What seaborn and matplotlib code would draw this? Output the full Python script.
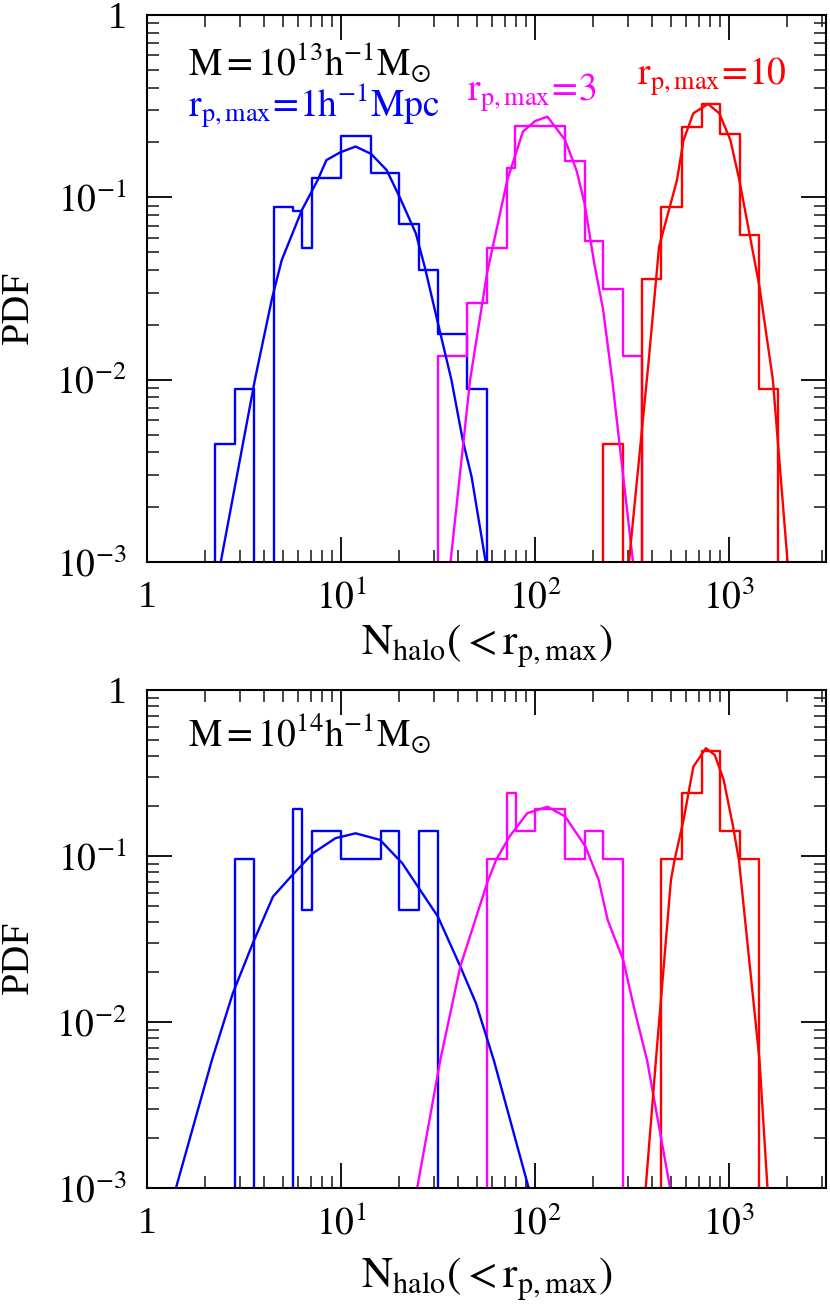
import numpy as np
import pandas as pd
import matplotlib
matplotlib.use("Agg")
import matplotlib.pyplot as plt
import seaborn as sns
from matplotlib.ticker import FixedLocator, FixedFormatter, NullFormatter, LogLocator

# ---------------- data ----------------
# Top panel: M = 1e13 h^-1 Msun
top_blue_edges = [2.24, 2.84, 3.56, 4.50, 5.66, 6.28, 7.10, 10.0, 14.3, 20.0, 25.3, 31.8, 44.6, 56.6]
top_blue_pdf = [0.00444, 0.00885, 0.0, 0.088, 0.084, 0.053, 0.128, 0.217, 0.136, 0.0711, 0.040, 0.0177, 0.00885]
top_mag_edges = [31.8, 44.6, 56.6, 71.9, 78.7, 143.0, 180.0, 225.0, 285.0, 358.0]
top_mag_pdf = [0.0134, 0.0264, 0.053, 0.144, 0.246, 0.159, 0.0576, 0.0313, 0.0134]
top_red_edges = [225.0, 285.0, 358.0, 448.0, 574.0, 728.0, 901.0, 1143.0, 1436.0, 1794.0]
top_red_pdf = [0.00444, 0.0, 0.0355, 0.088, 0.244, 0.325, 0.222, 0.0621, 0.00885]

top_blue_fit_x = [2.40, 3.6, 4.41, 4.95, 6.29, 7.57, 8.41, 9.86, 11.9, 14.3, 17.2, 20.2, 24.3, 27.0, 31.6, 37.1, 42.4, 47.1, 55.7]
top_blue_fit_y = [0.001, 0.010, 0.0279, 0.0453, 0.0852, 0.124, 0.160, 0.176, 0.190, 0.173, 0.141, 0.0987, 0.0635, 0.0417, 0.0204, 0.00996, 0.00467, 0.00294, 0.001]
top_mag_fit_x = [36.7, 46.3, 56.6, 71.9, 86.6, 100.0, 115.9, 143.0, 163.5, 180.0, 202.0, 224.6, 250.0, 320.0]
top_mag_fit_y = [0.001, 0.010, 0.0383, 0.124, 0.229, 0.262, 0.277, 0.206, 0.141, 0.093, 0.0435, 0.0241, 0.010, 0.001]
top_red_fit_x = [305.0, 385.0, 436.0, 539.0, 583.0, 655.0, 780.0, 891.0, 1017.0, 1131.0, 1436.0, 1683.0, 2004.0]
top_red_fit_y = [0.001, 0.0125, 0.0536, 0.124, 0.206, 0.289, 0.325, 0.289, 0.206, 0.124, 0.0323, 0.010, 0.001]

# Bottom panel: M = 1e14 h^-1 Msun
bot_blue_edges = [2.84, 3.56, 5.68, 6.28, 7.10, 10.0, 16.06, 20.0, 25.3, 31.8]
bot_blue_pdf = [0.0955, 0.0, 0.192, 0.0473, 0.142, 0.0955, 0.142, 0.0473, 0.142]
bot_mag_edges = [56.6, 71.9, 80.0, 100.5, 143.0, 180.0, 225.0, 285.0]
bot_mag_pdf = [0.0955, 0.2385, 0.142, 0.192, 0.0955, 0.142, 0.0955]
bot_red_edges = [448.0, 574.0, 728.0, 901.0, 1143.0, 1436.0]
bot_red_pdf = [0.0955, 0.2385, 0.431, 0.142, 0.0955]

bot_blue_fit_x = [1.41, 2.16, 2.77, 3.51, 4.46, 5.51, 7.17, 9.36, 11.9, 15.9, 20.7, 31.6, 41.2, 49.6, 61.3, 92.8]
bot_blue_fit_y = [0.001, 0.0059, 0.0149, 0.0298, 0.0569, 0.075, 0.104, 0.128, 0.137, 0.125, 0.0904, 0.0431, 0.0216, 0.0130, 0.0059, 0.001]
bot_mag_fit_x = [24.7, 32.5, 41.2, 56.6, 63.0, 73.9, 91.2, 116.0, 143.0, 182.0, 213.0, 237.0, 285.0, 326.0, 378.0, 497.0]
bot_mag_fit_y = [0.001, 0.0059, 0.0216, 0.0685, 0.0946, 0.131, 0.181, 0.198, 0.173, 0.114, 0.0717, 0.0411, 0.0236, 0.0118, 0.0059, 0.001]
bot_red_fit_x = [372.0, 420.0, 502.0, 524.0, 583.0, 655.0, 760.0, 845.0, 939.0, 1050.0, 1125.0, 1436.0, 1579.0]
bot_red_fit_y = [0.001, 0.0059, 0.0717, 0.0946, 0.165, 0.345, 0.446, 0.406, 0.287, 0.150, 0.0946, 0.0059, 0.001]

x_ticks = [1, 10, 100, 1000]
x_ticklabels = ["1", r"$10^{1}$", r"$10^{2}$", r"$10^{3}$"]
y_ticks = [1e-3, 1e-2, 1e-1, 1]
y_ticklabels = [r"$10^{-3}$", r"$10^{-2}$", r"$10^{-1}$", "1"]

BLUE, MAG, RED = "#0000ff", "#ff00ff", "#ff0000"

# ---------------- style ----------------
sns.set_theme(style="ticks")
plt.rcParams["font.family"] = ["Liberation Serif", "DejaVu Serif"]
plt.rcParams["mathtext.fontset"] = "stix"
plt.rcParams["axes.linewidth"] = 1.5
plt.rcParams["axes.edgecolor"] = "black"

fig = plt.figure(figsize=(8.3, 13.09), dpi=100)
W, H = 830.0, 1309.0
ax1 = fig.add_axes([147 / W, (H - 562) / H, 679 / W, 547 / H])
ax2 = fig.add_axes([147 / W, (H - 1188) / H, 679 / W, 498 / H])


def step_frame(edges, heights):
    x = [edges[0]] + list(edges)
    y = [0.0] + list(heights) + [0.0]
    return pd.DataFrame({"N": x, "PDF": y})


def draw_panel(ax, hists, fits, mass_label, xlabel_y, ylabel_y):
    for edges, heights, color in hists:
        df = step_frame(edges, heights)
        sns.lineplot(data=df, x="N", y="PDF", ax=ax, color=color, lw=1.7,
                     sort=False, estimator=None, drawstyle="steps-post")
    for xs, ys, color in fits:
        df = pd.DataFrame({"N": xs, "PDF": ys})
        sns.lineplot(data=df, x="N", y="PDF", ax=ax, color=color, lw=1.7,
                     sort=False, estimator=None)
    ax.set_xscale("log")
    ax.set_yscale("log")
    ax.set_xlim(1, 10 ** 3.5)
    ax.set_ylim(1e-3, 1)
    ax.xaxis.set_major_locator(FixedLocator(x_ticks))
    ax.xaxis.set_major_formatter(FixedFormatter(x_ticklabels))
    ax.yaxis.set_major_locator(FixedLocator(y_ticks))
    ax.yaxis.set_major_formatter(FixedFormatter(y_ticklabels))
    ax.xaxis.set_minor_locator(LogLocator(base=10, subs=np.arange(2, 10), numticks=20))
    ax.yaxis.set_minor_locator(LogLocator(base=10, subs=np.arange(2, 10), numticks=20))
    ax.xaxis.set_minor_formatter(NullFormatter())
    ax.yaxis.set_minor_formatter(NullFormatter())
    ax.tick_params(which="major", direction="in", length=18, width=1.3,
                   top=True, right=True, labelsize=27, colors="black")
    ax.tick_params(axis="x", which="major", pad=13)
    ax.tick_params(axis="y", which="major", pad=15)
    ax.tick_params(which="minor", direction="in", length=8.5, width=1.2,
                   top=True, right=True)
    for lab in ax.get_yticklabels():
        lab.set_va("center_baseline")
    ax.set_xlabel(r"$\mathrm{N_{halo}(<r_{p,max})}$", fontsize=31, color="black")
    ax.set_ylabel("PDF", fontsize=29, color="black")
    ax.xaxis.label.set_va("baseline")
    ax.yaxis.label.set_va("center")
    ax.xaxis.set_label_coords(0.5, xlabel_y)
    ax.yaxis.set_label_coords(-0.19, ylabel_y)
    ax.text(0.06, mass_label[1], mass_label[0], transform=ax.transAxes,
            fontsize=27, color="black", va="baseline", ha="left")
    for s in ax.spines.values():
        s.set_linewidth(1.5)
        s.set_color("black")


draw_panel(
    ax1,
    [(top_blue_edges, top_blue_pdf, BLUE), (top_mag_edges, top_mag_pdf, MAG), (top_red_edges, top_red_pdf, RED)],
    [(top_blue_fit_x, top_blue_fit_y, BLUE), (top_mag_fit_x, top_mag_fit_y, MAG), (top_red_fit_x, top_red_fit_y, RED)],
    (r"$\mathrm{M=10^{13}h^{-1}M_{\odot}}$", 0.890),
    -0.17, 0.466,
)
ax1.text(0.06, 0.812, r"$\mathrm{r_{p,max}\!=\!1h^{-1}Mpc}$", transform=ax1.transAxes,
         fontsize=27, color=BLUE, va="baseline", ha="left")
ax1.text(0.471, 0.843, r"$\mathrm{r_{p,max}\!=\!3}$", transform=ax1.transAxes,
         fontsize=27, color=MAG, va="baseline", ha="left")
ax1.text(0.722, 0.872, r"$\mathrm{r_{p,max}\!=\!10}$", transform=ax1.transAxes,
         fontsize=27, color=RED, va="baseline", ha="left")

draw_panel(
    ax2,
    [(bot_blue_edges, bot_blue_pdf, BLUE), (bot_mag_edges, bot_mag_pdf, MAG), (bot_red_edges, bot_red_pdf, RED)],
    [(bot_blue_fit_x, bot_blue_fit_y, BLUE), (bot_mag_fit_x, bot_mag_fit_y, MAG), (bot_red_fit_x, bot_red_fit_y, RED)],
    (r"$\mathrm{M=10^{14}h^{-1}M_{\odot}}$", 0.8855),
    -0.20, 0.463,
)

fig.savefig("out.png", dpi=100, facecolor="white")
